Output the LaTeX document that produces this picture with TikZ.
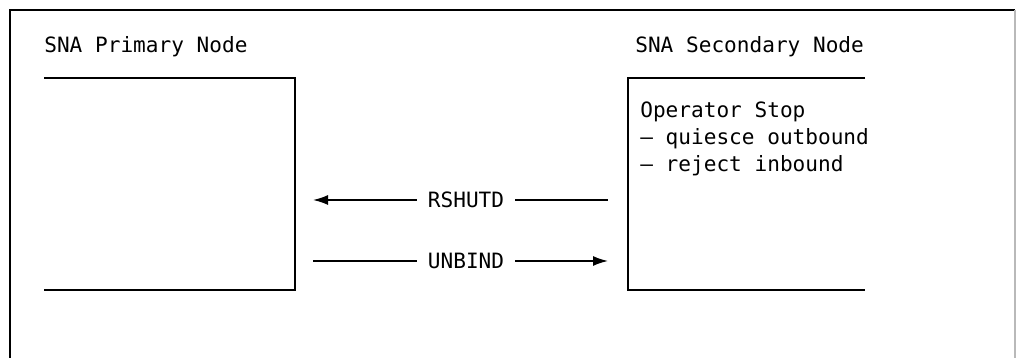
\documentclass[tikz,border=0pt]{standalone}
\usepackage{fontspec}
\setmonofont{DejaVu Sans Mono}
\usetikzlibrary{arrows.meta}

\tikzset{
  frameline/.style={line width=1pt},
  boxline/.style={line width=0.9pt},
  msg/.style={inner xsep=0.22cm, inner ysep=0pt},
  msgarrow/.style={line width=0.9pt, -{Latex[length=0.3cm,width=0.2cm]}}
}

\begin{document}
\begin{tikzpicture}[every node/.style={font=\fontsize{12}{14.2}\selectfont\ttfamily}]
  \useasboundingbox (0,0) rectangle (20.32,7.16);
  % Outer frame, open at the bottom
  \draw[frameline] (0.2,0) -- (0.2,6.96) -- (20.3,6.96);
  \draw[frameline, gray!55] (20.3,6.96) -- (20.3,0);

  % Headers
  \node[anchor=base west, inner sep=0] (prim) at (0.88,6.1) {SNA Primary Node};
  \node[anchor=base west, inner sep=0] (sec) at (12.7,6.1) {SNA Secondary Node};

  % Node boxes (open on the outer side)
  \draw[boxline] (0.88,5.6) -- (5.9,5.6) -- (5.9,1.36) -- (0.88,1.36);
  \draw[boxline] (17.3,5.6) -- (12.56,5.6) -- (12.56,1.36) -- (17.3,1.36);
  \coordinate (prim-e) at (6.26,0);
  \coordinate (sec-w) at (12.16,0);

  % Secondary side state
  \node[anchor=base west, inner sep=0] (op1) at (12.8,4.8) {Operator Stop};
  \node[anchor=base west, inner sep=0] (op2) at (12.8,4.26) {– quiesce outbound};
  \node[anchor=base west, inner sep=0] (op3) at (12.8,3.72) {– reject inbound};

  % Flows
  \node[msg] (rshutd) at (9.32,3.16) {RSHUTD};
  \draw[msgarrow] (rshutd.west) -- (rshutd.west -| prim-e);
  \draw[boxline] (rshutd.east) -- (rshutd.east -| sec-w);

  \node[msg] (unbind) at (9.32,1.94) {UNBIND};
  \draw[boxline] (unbind.west) -- (unbind.west -| prim-e);
  \draw[msgarrow] (unbind.east) -- (unbind.east -| sec-w);
\end{tikzpicture}
\end{document}
